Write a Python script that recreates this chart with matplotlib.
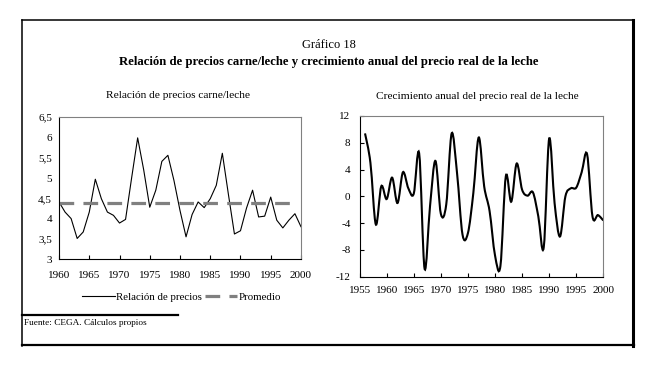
import numpy as np
import matplotlib
matplotlib.use("Agg")
import matplotlib.pyplot as plt
from matplotlib.path import Path
import matplotlib.patches as patches
from matplotlib.lines import Line2D

# left panel: price ratio beef/milk
years_rel = list(range(1960, 2001))
relacion = [4.41, 4.16, 4.00, 3.51, 3.67, 4.16, 4.97, 4.49, 4.16, 4.08,
            3.89, 3.98, 5.00, 5.99, 5.20, 4.28, 4.70, 5.41, 5.56, 4.94,
            4.20, 3.55, 4.10, 4.41, 4.27, 4.49, 4.82, 5.61, 4.60, 3.62,
            3.70, 4.26, 4.70, 4.04, 4.06, 4.53, 3.96, 3.77, 3.96, 4.12,
            3.80]
years_prom = list(range(1960, 2000))
promedio = [4.38] * len(years_prom)

# right panel: annual growth of real milk price
years_crec = list(range(1956, 2001))
crecimiento = [9.4, 5.0, -4.2, 1.5, -0.4, 2.8, -1.0, 3.6, 1.2, 0.4,
               6.4, -10.8, -1.5, 5.3, -2.6, -1.2, 9.4, 3.4, -5.7, -5.5,
               0.5, 8.8, 1.5, -2.2, -8.8, -10.4, 3.0, -0.8, 4.9, 1.0,
               0.1, 0.6, -3.0, -7.6, 8.6, -1.0, -6.0, 0.0, 1.2, 1.3,
               3.6, 6.3, -3.0, -2.8, -3.6]

plt.rcParams['font.family'] = ['Liberation Serif', 'DejaVu Serif']
plt.rcParams['axes.unicode_minus'] = False


def smooth_path(xs, ys):
	# excel style smoothed line: catmull-rom turned into bezier segments
	pts = np.column_stack([xs, ys]).astype(float)
	n = len(pts)
	verts = [tuple(pts[0])]
	codes = [Path.MOVETO]
	for i in range(n - 1):
		p0 = pts[i - 1] if i > 0 else pts[i]
		p1 = pts[i]
		p2 = pts[i + 1]
		p3 = pts[i + 2] if i + 2 < n else pts[i + 1]
		c1 = p1 + (p2 - p0) / 6.0
		c2 = p2 - (p3 - p1) / 6.0
		verts += [tuple(c1), tuple(c2), tuple(p2)]
		codes += [Path.CURVE4, Path.CURVE4, Path.CURVE4]
	return Path(verts, codes)


def style_axes(ax, xpad, ypad):
	ax.spines['top'].set_color('#808080')
	ax.spines['right'].set_color('#808080')
	ax.spines['left'].set_color('black')
	ax.spines['bottom'].set_color('black')
	for s in ax.spines.values():
		s.set_linewidth(0.8)
	ax.tick_params(direction='in', length=3, width=0.8, labelsize=8)
	ax.tick_params(axis='x', pad=xpad)
	ax.tick_params(axis='y', pad=ypad)


fig = plt.figure(figsize=(6.58, 3.65), dpi=100)

# ---- left chart
ax1 = fig.add_axes([0.0897, 0.290, 0.3677, 0.389])
ax1.plot(years_rel, relacion, color='black', lw=0.8, label='Relación de precios')
ax1.plot(years_prom, promedio, color='#808080', lw=2.3, dashes=(4.6, 2.9),
         label='Promedio')
ax1.set_xlim(1960, 2000)
ax1.set_ylim(3, 6.5)
ax1.set_xticks(range(1960, 2001, 5))
ax1.set_yticks(np.arange(3, 6.51, 0.5))
ax1.set_yticklabels(['3', '3,5', '4', '4,5', '5', '5,5', '6', '6,5'])
style_axes(ax1, 8.5, 5)
ax1.tick_params(axis='y', length=0)

# ---- right chart
ax2 = fig.add_axes([0.5465, 0.2419, 0.3704, 0.4403])
ax2.add_patch(patches.PathPatch(smooth_path(years_crec, crecimiento),
                                facecolor='none', edgecolor='black', lw=1.5))
ax2.set_xlim(1955, 2000)
ax2.set_ylim(-12, 12)
ax2.set_xticks(range(1955, 2001, 5))
ax2.set_yticks(range(-12, 13, 4))
style_axes(ax2, 7, 6.5)

# ---- texts
fig.text(0.50, 0.877, 'Gráfico 18', ha='center', va='center', fontsize=9)
fig.text(0.50, 0.829, 'Relación de precios carne/leche y crecimiento anual del precio real de la leche',
         ha='center', va='center', fontsize=9.2, fontweight='bold')
fig.text(0.271, 0.737, 'Relación de precios carne/leche', ha='center', va='center', fontsize=8.2)
fig.text(0.726, 0.735, 'Crecimiento anual del precio real de la leche', ha='center', va='center', fontsize=8.1)
fig.text(0.037, 0.115, 'Fuente: CEGA. Cálculos propios', ha='left', va='center', fontsize=6.7)

leg = fig.legend(*ax1.get_legend_handles_labels(), loc='center', bbox_to_anchor=(0.276, 0.187),
                 ncol=2, frameon=False, fontsize=7.8, handlelength=3.0,
                 handletextpad=0.1, columnspacing=0.3)

# ---- frame round the whole figure
W, H = 658.0, 365.0
def fline(x0, y0, x1, y1, lw):
	fig.add_artist(Line2D([x0 / W, x1 / W], [1 - y0 / H, 1 - y1 / H], color='black', lw=lw))

fline(22, 20, 634, 20, 1.1)
fline(22, 20, 22, 346, 1.1)
fline(22, 345, 634, 345, 1.6)
fline(633, 20, 633, 346, 2.2)
fline(22, 315, 178, 315, 1.6)

fig.savefig('out.png', dpi=100)
